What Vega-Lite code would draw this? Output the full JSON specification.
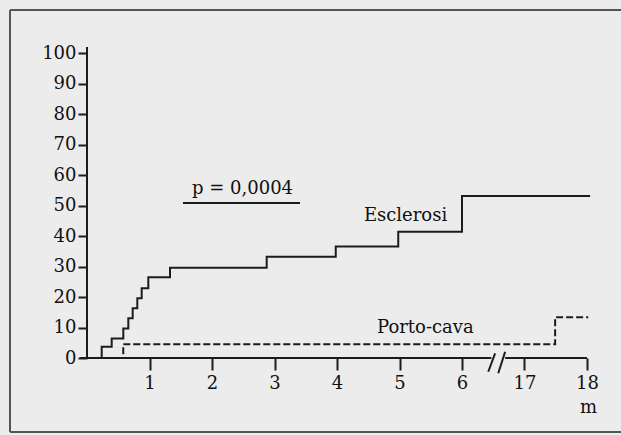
{
  "$schema": "https://vega.github.io/schema/vega-lite/v6.json",
  "width": 611,
  "height": 422,
  "autosize": {"type": "none"},
  "padding": {"left": 10, "top": 10, "right": 0, "bottom": 3},
  "background": "#ececec",
  "config": {
    "view": {"stroke": null},
    "font": "DejaVu Serif"
  },
  "datasets": {
    "frame": [
      {"m": -1.232, "m2": 9.5, "v": 114.1, "v2": 114.1},
      {"m": -1.232, "m2": 9.5, "v": -24.26, "v2": -24.26},
      {"m": -1.232, "m2": -1.232, "v": -24.26, "v2": 114.1}
    ],
    "curves": [
      {"series": "Esclerosi", "m": 0, "v": 0},
      {"series": "Esclerosi", "m": 0.235, "v": 3.7},
      {"series": "Esclerosi", "m": 0.395, "v": 6.4},
      {"series": "Esclerosi", "m": 0.581, "v": 9.7},
      {"series": "Esclerosi", "m": 0.661, "v": 13.0},
      {"series": "Esclerosi", "m": 0.731, "v": 16.3},
      {"series": "Esclerosi", "m": 0.805, "v": 19.6},
      {"series": "Esclerosi", "m": 0.875, "v": 22.9},
      {"series": "Esclerosi", "m": 0.981, "v": 26.5},
      {"series": "Esclerosi", "m": 1.328, "v": 29.6},
      {"series": "Esclerosi", "m": 2.875, "v": 33.2},
      {"series": "Esclerosi", "m": 3.98, "v": 36.6},
      {"series": "Esclerosi", "m": 4.98, "v": 41.4},
      {"series": "Esclerosi", "m": 6.0, "v": 53.1},
      {"series": "Esclerosi", "m": 18.05, "v": 53.1},
      {"series": "Porto-cava", "m": 0, "v": 0},
      {"series": "Porto-cava", "m": 0.58, "v": 4.5},
      {"series": "Porto-cava", "m": 17.49, "v": 13.4},
      {"series": "Porto-cava", "m": 18.02, "v": 13.4}
    ],
    "rules": [
      {"m": -0.11, "m2": 6.47, "v": 0, "v2": 0},
      {"m": 16.69, "m2": 18.0, "v": 0, "v2": 0},
      {"m": 0, "m2": 0, "v": 0, "v2": 102},
      {"m": 6.42, "m2": 6.53, "v": -4.5, "v2": 1.5},
      {"m": 16.58, "m2": 16.69, "v": -5.0, "v2": 2.0},
      {"m": 1.536, "m2": 3.408, "v": 50.8, "v2": 50.8}
    ],
    "labels": [
      {"m": 4.43, "v": 45.0, "text": "Esclerosi"},
      {"m": 4.64, "v": 8.2, "text": "Porto-cava"},
      {"m": 1.68, "v": 53.8, "text": "p = 0,0004"}
    ]
  },
  "encoding": {
    "x": {
      "field": "x",
      "type": "quantitative",
      "scale": {"domain": [-1.232, 8.544], "nice": false, "zero": false},
      "axis": {
        "orient": "bottom",
        "offset": -74,
        "values": [1, 2, 3, 4, 5, 6, 7, 8],
        "labelExpr": "datum.value > 6 ? datum.value + 10 : datum.value",
        "domain": false,
        "grid": false,
        "tickSize": 12,
        "tickWidth": 2,
        "tickColor": "#1c1c1c",
        "labelPadding": 4,
        "labelFont": "DejaVu Serif",
        "labelFontSize": 18,
        "labelColor": "#111111",
        "title": "m",
        "titleFont": "DejaVu Serif",
        "titleFontSize": 18,
        "titleFontWeight": "normal",
        "titleColor": "#111111",
        "titleX": 578,
        "titleY": 54,
        "titleAlign": "center",
        "titleBaseline": "alphabetic"
      }
    },
    "y": {
      "field": "v",
      "type": "quantitative",
      "scale": {"domain": [-24.26, 114.1], "nice": false, "zero": false},
      "axis": {
        "orient": "left",
        "offset": -77,
        "values": [0, 10, 20, 30, 40, 50, 60, 70, 80, 90, 100],
        "domain": false,
        "grid": false,
        "tickSize": 9,
        "tickWidth": 2,
        "tickColor": "#1c1c1c",
        "labelPadding": 2,
        "labelFont": "DejaVu Serif",
        "labelFontSize": 18,
        "labelColor": "#111111",
        "title": null
      }
    }
  },
  "layer": [
    {
      "data": {"name": "frame"},
      "transform": [
        {"calculate": "datum.m", "as": "x"},
        {"calculate": "datum.m2", "as": "x2"}
      ],
      "mark": {"type": "rule", "color": "#555555", "strokeWidth": 2},
      "encoding": {
        "x2": {"field": "x2"},
        "y2": {"field": "v2"}
      }
    },
    {
      "data": {"name": "rules"},
      "transform": [
        {"calculate": "datum.m > 10 ? datum.m - 10 : datum.m", "as": "x"},
        {"calculate": "datum.m2 > 10 ? datum.m2 - 10 : datum.m2", "as": "x2"}
      ],
      "mark": {"type": "rule", "color": "#1c1c1c", "strokeWidth": 2},
      "encoding": {
        "x2": {"field": "x2"},
        "y2": {"field": "v2"}
      }
    },
    {
      "data": {"name": "curves"},
      "transform": [
        {"calculate": "datum.m > 10 ? datum.m - 10 : datum.m", "as": "x"}
      ],
      "mark": {"type": "line", "interpolate": "step-after", "color": "#1c1c1c", "strokeWidth": 2},
      "encoding": {
        "detail": {"field": "series"},
        "strokeDash": {
          "field": "series",
          "type": "nominal",
          "scale": {"domain": ["Esclerosi", "Porto-cava"], "range": [[1, 0], [7, 3]]},
          "legend": null
        }
      }
    },
    {
      "data": {"name": "labels"},
      "transform": [
        {"calculate": "datum.m > 10 ? datum.m - 10 : datum.m", "as": "x"}
      ],
      "mark": {"type": "text", "align": "left", "baseline": "alphabetic", "font": "DejaVu Serif", "fontSize": 18, "color": "#111111"},
      "encoding": {
        "text": {"field": "text"}
      }
    }
  ]
}
